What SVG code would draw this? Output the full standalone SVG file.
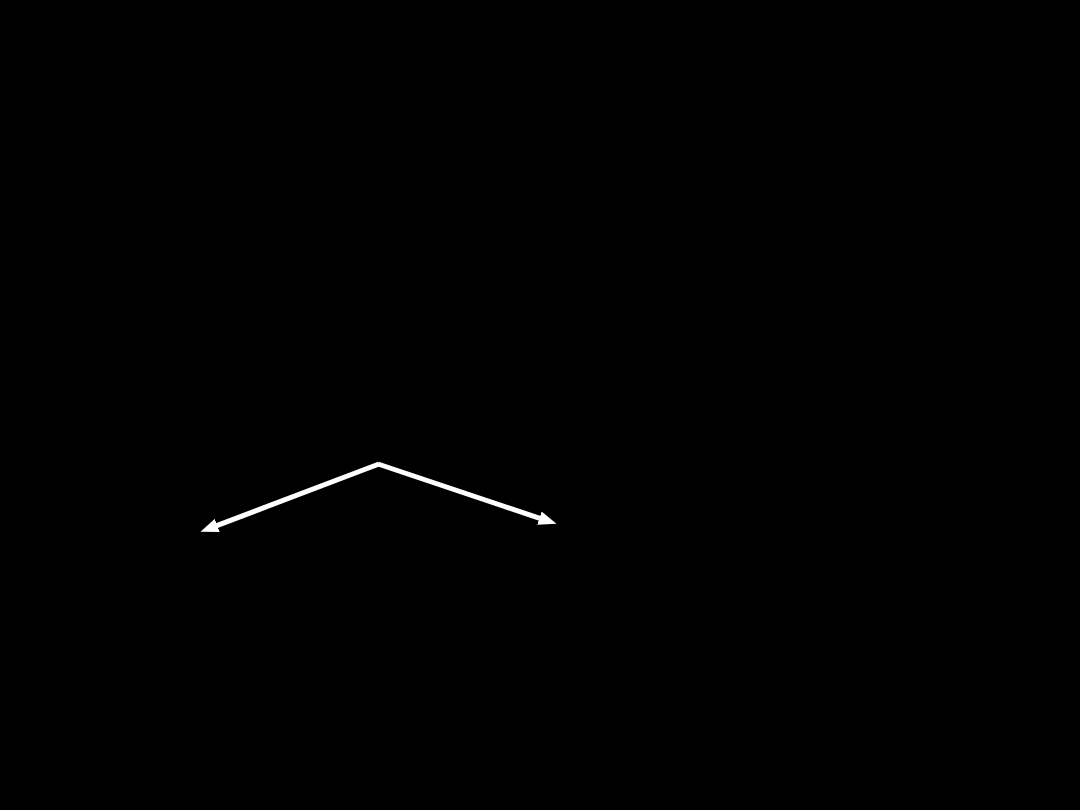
<svg xmlns="http://www.w3.org/2000/svg" width="1080" height="810" viewBox="0 0 1080 810">
<defs>
<style>
.conn{stroke:#ffffff;stroke-width:5;fill:none;stroke-linecap:butt}
</style>
<marker id="ah" markerUnits="userSpaceOnUse" markerWidth="18" markerHeight="14" viewBox="0 0 18 14" refX="0.5" refY="7" orient="auto">
<path d="M0,0 L18,7 L0,14 Z" fill="#ffffff"/>
</marker>
</defs>
<rect x="0" y="0" width="1080" height="810" fill="#000000"/>
<g id="connectors">
<line class="conn" x1="379" y1="464" x2="216.8" y2="525.6" marker-end="url(#ah)"/>
<line class="conn" x1="378" y1="464" x2="539.9" y2="518.3" marker-end="url(#ah)"/>
</g>
</svg>
